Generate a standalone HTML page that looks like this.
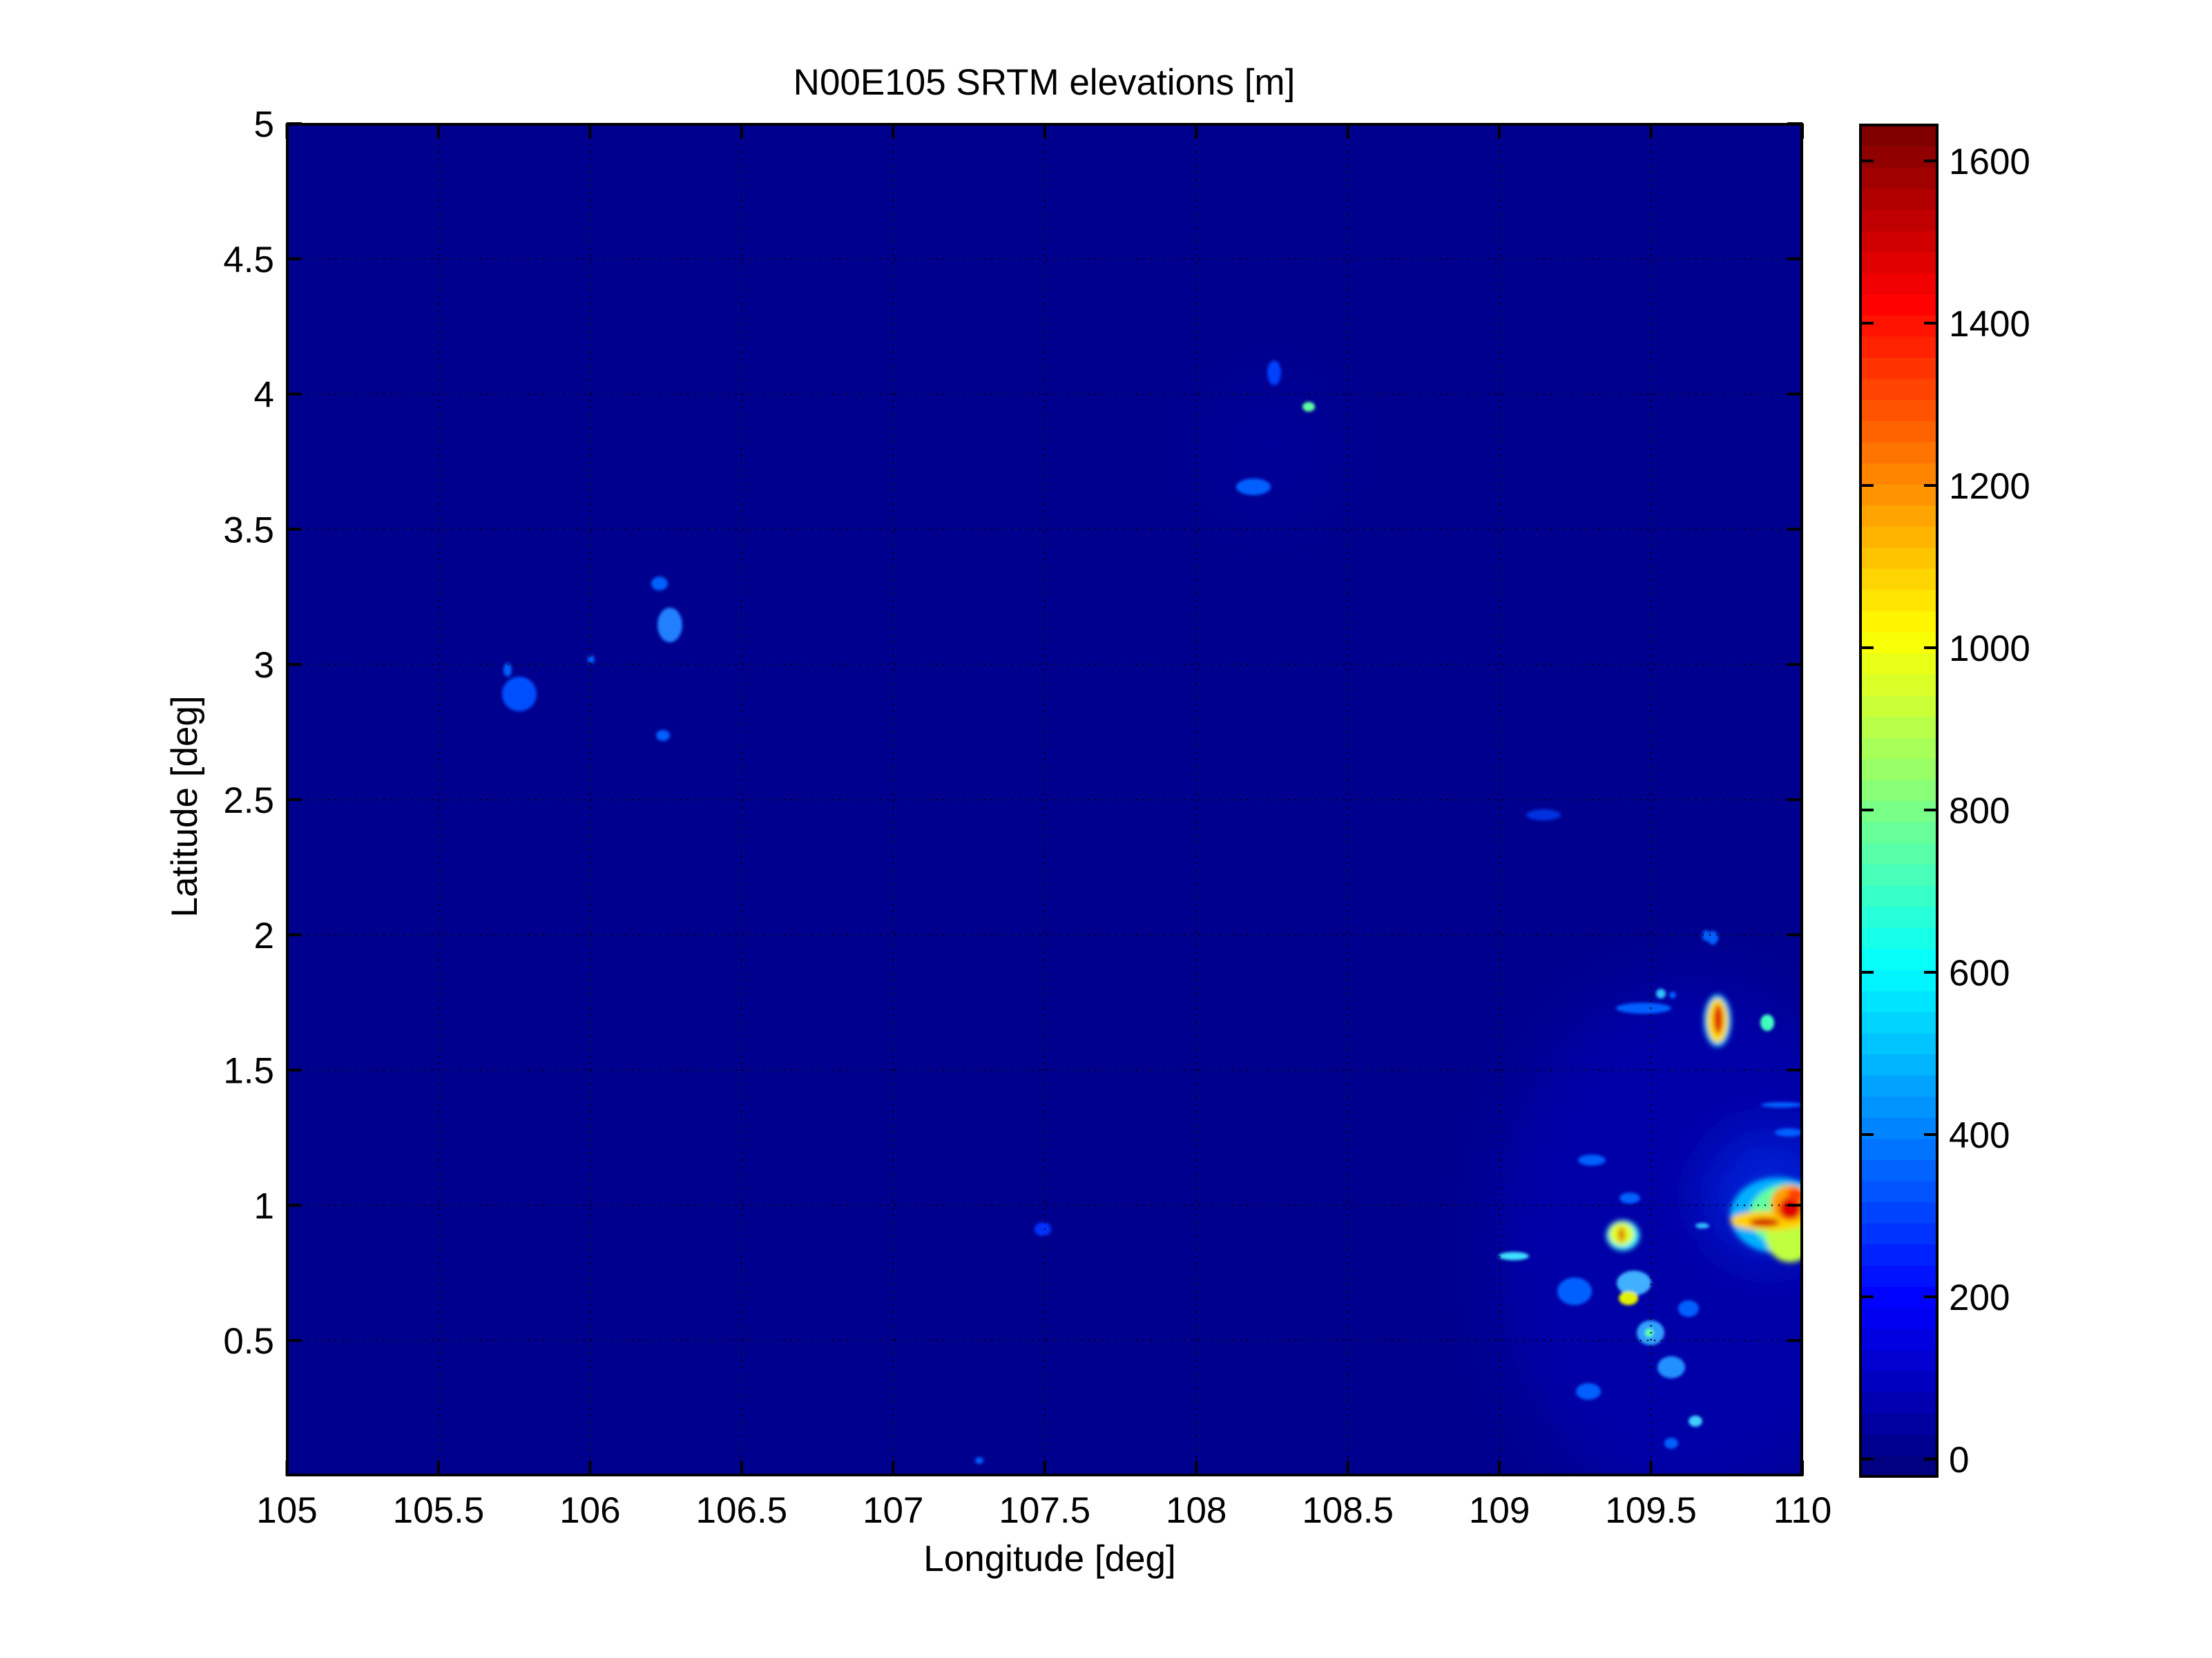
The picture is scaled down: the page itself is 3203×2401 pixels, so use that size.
<!DOCTYPE html>
<html><head><meta charset="utf-8">
<style>
html,body{margin:0;padding:0;background:#fff;}
svg{display:block;}
text{font-family:"Liberation Sans",Arial,sans-serif;fill:#000;}
</style></head>
<body>
<svg id="s" width="3203" height="2401" xmlns="http://www.w3.org/2000/svg">
<defs>
<filter id="b2" x="-50%" y="-50%" width="200%" height="200%"><feGaussianBlur stdDeviation="2"/></filter>
<filter id="b4" x="-50%" y="-50%" width="200%" height="200%"><feGaussianBlur stdDeviation="4"/></filter>
<filter id="b40" x="-50%" y="-50%" width="200%" height="200%"><feGaussianBlur stdDeviation="40"/></filter>
<clipPath id="pc"><rect x="415" y="179" width="2195" height="1958"/></clipPath>
</defs>
<rect x="0" y="0" width="3203" height="2401" fill="#fff"/>
<g clip-path="url(#pc)">
<rect x="415" y="179" width="2195" height="1958" fill="#00008f"/>
<ellipse cx="2450" cy="1800" rx="280" ry="380" fill="#0000a8" filter="url(#b40)"/>
<ellipse cx="2560" cy="1730" rx="90" ry="90" fill="#0020d8" filter="url(#b40)"/>
<ellipse cx="1840" cy="650" rx="90" ry="90" fill="#000098" filter="url(#b40)"/>
<g filter="url(#b4)">
<ellipse cx="2575" cy="1760" rx="70" ry="55" fill="#00b0ff"/>
<ellipse cx="2588" cy="1760" rx="55" ry="45" fill="#60ffa0"/>
<ellipse cx="2592" cy="1790" rx="35" ry="38" fill="#c0ff40"/>
<ellipse cx="2560" cy="1768" rx="55" ry="14" fill="#ffd000"/>
<ellipse cx="2592" cy="1742" rx="28" ry="26" fill="#ffa000"/>
<ellipse cx="2592" cy="1750" rx="16" ry="16" fill="#e00000"/>
<ellipse cx="2555" cy="1770" rx="22" ry="6" fill="#d00000"/>
<ellipse cx="2600" cy="1730" rx="12" ry="10" fill="#ff4000"/>
</g>
<g filter="url(#b4)">
<ellipse cx="2487" cy="1478" rx="20" ry="38" fill="#00c0ff"/>
<ellipse cx="2487" cy="1478" rx="15" ry="32" fill="#ffe000"/>
<ellipse cx="2488" cy="1476" rx="7" ry="22" fill="#e00000"/>
</g>
<g filter="url(#b2)">
<ellipse cx="2559" cy="1481" rx="10" ry="12" fill="#40ffc0"/>
</g>
<g filter="url(#b4)">
<ellipse cx="2350" cy="1789" rx="24" ry="22" fill="#30f0ff"/>
<ellipse cx="2348" cy="1787" rx="18" ry="17" fill="#e0ff20"/>
<ellipse cx="2348" cy="1788" rx="4" ry="11" fill="#e00000"/>
</g>
<g filter="url(#b2)" fill="#0060ff">
<ellipse cx="2192" cy="1819" rx="22" ry="6" fill="#40e0ff"/>
<ellipse cx="2366" cy="1858" rx="25" ry="18" fill="#40b0ff"/>
<ellipse cx="2358" cy="1880" rx="14" ry="10" fill="#e0f000"/>
<ellipse cx="2390" cy="1930" rx="20" ry="18" fill="#30a0ff"/>
<ellipse cx="2388" cy="1930" rx="6" ry="6" fill="#60ffa0"/>
<ellipse cx="2420" cy="1980" rx="20" ry="16" fill="#2090ff"/>
<ellipse cx="2455" cy="2058" rx="10" ry="8" fill="#40d0ff"/>
<ellipse cx="2280" cy="1870" rx="25" ry="20"/>
<ellipse cx="2300" cy="2015" rx="18" ry="12"/>
<ellipse cx="2420" cy="2090" rx="10" ry="8"/>
<ellipse cx="2445" cy="1895" rx="15" ry="12"/>
<ellipse cx="2305" cy="1680" rx="20" ry="8"/>
<ellipse cx="2360" cy="1735" rx="15" ry="8"/>
<ellipse cx="2465" cy="1775" rx="10" ry="4" fill="#30c0ff"/>
<ellipse cx="2405" cy="1439" rx="7" ry="7" fill="#30c0ff"/>
<ellipse cx="2422" cy="1441" rx="5" ry="5"/>
<ellipse cx="2380" cy="1460" rx="40" ry="8"/>
<ellipse cx="2470" cy="1355" rx="5" ry="8"/>
<ellipse cx="2580" cy="1600" rx="30" ry="4"/>
<ellipse cx="2590" cy="1640" rx="20" ry="6"/>
<ellipse cx="1895" cy="589" rx="9" ry="7" fill="#60ffa0"/>
<ellipse cx="1815" cy="705" rx="25" ry="12"/>
<ellipse cx="1845" cy="540" rx="10" ry="18" fill="#0040ff"/>
<ellipse cx="970" cy="905" rx="18" ry="25" fill="#2080ff"/>
<ellipse cx="955" cy="845" rx="12" ry="10"/>
<ellipse cx="752" cy="1005" rx="25" ry="25" fill="#0050ff"/>
<ellipse cx="735" cy="970" rx="6" ry="10"/>
<ellipse cx="960" cy="1065" rx="10" ry="8"/>
<ellipse cx="856" cy="955" rx="5" ry="6"/>
<ellipse cx="1510" cy="1780" rx="12" ry="10" fill="#0030ff"/>
<ellipse cx="2235" cy="1180" rx="25" ry="8" fill="#0030e0"/>
<ellipse cx="2480" cy="1358" rx="8" ry="10"/>
<ellipse cx="1418" cy="2115" rx="6" ry="5"/>
</g>
<g id="grid" stroke="#000" stroke-width="2" stroke-dasharray="2,8"></g>
</g>
<rect x="416" y="180" width="2193" height="1956" fill="none" stroke="#000" stroke-width="4"/>
<g id="ticks" stroke="#000" stroke-width="4"></g>
<g id="labels" font-size="53"></g>
<text x="1512" y="137" font-size="53" text-anchor="middle">N00E105 SRTM elevations [m]</text>
<text x="1520" y="2275" font-size="53" text-anchor="middle">Longitude [deg]</text>
<text transform="translate(285,1168) rotate(-90)" font-size="53" text-anchor="middle">Latitude [deg]</text>
<g id="cb"></g>
<rect x="2694" y="181" width="111" height="1957" fill="none" stroke="#000" stroke-width="4"/>
<g id="cbt" stroke="#000" stroke-width="4"></g>
</svg>
<script>
(function(){
var NS="http://www.w3.org/2000/svg";
function el(p,t,a,txt){var e=document.createElementNS(NS,t);for(var k in a)e.setAttribute(k,a[k]);if(txt!=null)e.textContent=txt;document.getElementById(p).appendChild(e);}
function cl(v){return Math.max(0,Math.min(1,v));}
function jet(t){var r=cl(1.5-Math.abs(4*t-3)),g=cl(1.5-Math.abs(4*t-2)),b=cl(1.5-Math.abs(4*t-1));return "rgb("+Math.round(r*255)+","+Math.round(g*255)+","+Math.round(b*255)+")";}
var cTop=181,cBot=2138,n=64,h=(cBot-cTop)/n;
for(var i=0;i<n;i++){var t=i/(n-1);el("cb","rect",{x:2694,y:(cBot-(i+1)*h).toFixed(2),width:111,height:(h+0.6).toFixed(2),fill:jet(t)});}
for(var v=0;v<=1600;v+=200){var y=2113-v*1.175;
el("cbt","line",{x1:2694,y1:y,x2:2713,y2:y});el("cbt","line",{x1:2786,y1:y,x2:2805,y2:y});
el("labels","text",{x:2822,y:y+19},String(v));}
for(var i=0;i<=10;i++){var x=415.5+219.45*i;var lab=(105+0.5*i);
if(i>0&&i<10){el("grid","line",{x1:x,y1:179,x2:x,y2:2137});}
el("ticks","line",{x1:x,y1:2137,x2:x,y2:2115});el("ticks","line",{x1:x,y1:179,x2:x,y2:201});
el("labels","text",{x:x,y:2205,"text-anchor":"middle"},String(lab));}
for(var i=1;i<=10;i++){var v=0.5*i;var y=2137-391.6*v;
if(i<10){el("grid","line",{x1:415,y1:y,x2:2610,y2:y});}
el("ticks","line",{x1:415,y1:y,x2:437,y2:y});el("ticks","line",{x1:2610,y1:y,x2:2588,y2:y});
el("labels","text",{x:397,y:y+19,"text-anchor":"end"},String(v));}
})();
</script>
</body></html>
